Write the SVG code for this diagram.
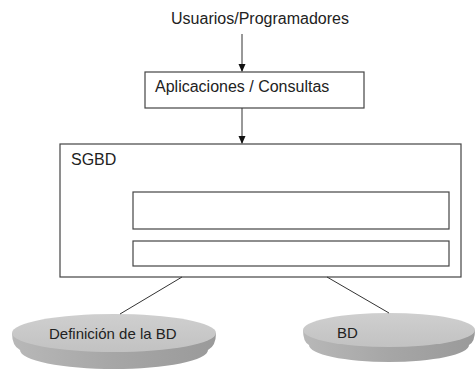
<svg xmlns="http://www.w3.org/2000/svg" width="475" height="372" viewBox="0 0 475 372">
<style>
  .box{fill:#fff;stroke:#444;stroke-width:1.2}
  .t{font-family:"Liberation Sans",Arial,sans-serif;font-size:16px;fill:#222}
  .ts{font-family:"Liberation Sans",Arial,sans-serif;font-size:15px;fill:#222}
  .con{stroke:#333;stroke-width:1;fill:none}
  .top{fill:#c8c8c8}
</style>
<defs>
  <marker id="arr" viewBox="0 0 8 8" refX="7" refY="4" markerWidth="8" markerHeight="8" markerUnits="userSpaceOnUse" orient="auto">
    <path d="M0,0.5 L8,4 L0,7.5 Z" fill="#111"/>
  </marker>
  <linearGradient id="side" x1="0" y1="0" x2="1" y2="0">
    <stop offset="0" stop-color="#b8b8b8"/>
    <stop offset="0.5" stop-color="#a6a6a6"/>
    <stop offset="1" stop-color="#9a9a9a"/>
  </linearGradient>
  <linearGradient id="topg" x1="0" y1="0" x2="0" y2="1">
    <stop offset="0" stop-color="#cfcfcf"/>
    <stop offset="1" stop-color="#c2c2c2"/>
  </linearGradient>
</defs>

<g id="usuarios">
  <text class="t" x="260" y="24" text-anchor="middle">Usuarios/Programadores</text>
</g>

<g id="aplicaciones">
  <rect class="box" x="145" y="72" width="219" height="36"/>
  <text class="t" x="155" y="92">Aplicaciones / Consultas</text>
</g>

<g id="sgbd">
  <rect class="box" x="60" y="144" width="401" height="133"/>
  <text class="t" x="71" y="165">SGBD</text>
  <rect class="box" x="133" y="192" width="316" height="37"/>
  <rect class="box" x="133" y="241" width="316" height="25"/>
</g>

<g id="definicion">
  <path d="M12,333 Q12,346 20,350 A94,19 0 0 0 208,350 Q216,346 216,333 Z" fill="url(#side)"/>
  <ellipse cx="114" cy="333" rx="102" ry="19" fill="url(#topg)"/>
  <text class="ts" x="49" y="339">Definición de la BD</text>
</g>

<g id="bd">
  <path d="M303,330 Q303,342 309,345 A80,17 0 0 0 469,345 Q475,342 475,330 Z" fill="url(#side)"/>
  <ellipse cx="389" cy="330" rx="86" ry="17" fill="url(#topg)"/>
  <text class="ts" x="337" y="338">BD</text>
</g>

<g id="connectors">
  <line class="con" x1="242" y1="34" x2="242" y2="71" marker-end="url(#arr)"/>
  <line class="con" x1="242" y1="108" x2="242" y2="143" marker-end="url(#arr)"/>
  <line class="con" x1="182" y1="277" x2="120" y2="314"/>
  <line class="con" x1="327" y1="277" x2="389" y2="313"/>
</g>
</svg>
